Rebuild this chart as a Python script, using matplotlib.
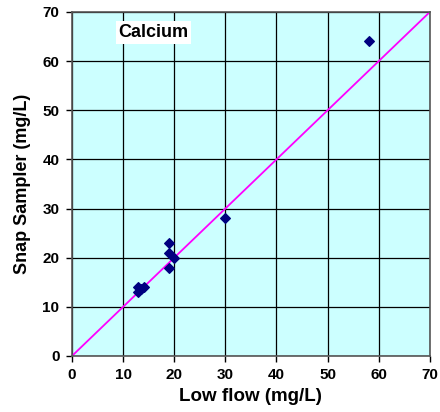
import numpy as np
import matplotlib.pyplot as plt

plt.rcParams['font.family'] = ['Liberation Sans', 'DejaVu Sans']

low_flow = [58, 30, 19, 19, 20, 19, 13, 14, 13, 13.5]
snap = [64, 28, 23, 21, 20, 18, 14, 14, 13, 13.6]
ticks = list(range(0, 71, 10))

fig = plt.figure(figsize=(4.4, 4.12), dpi=100)
ax = fig.add_axes([0.1636, 0.136, 0.8134, 0.835])
ax.set_facecolor('#CCFFFF')

ax.plot([0, 70], [0, 70], color='#FF00FF', lw=1.3, zorder=2)
ax.scatter(low_flow, snap, marker='D', s=24, color='#000080', zorder=3)

ax.set_xlim(0, 70)
ax.set_ylim(0, 70)
ax.set_xticks(ticks)
ax.set_yticks(ticks)
ax.grid(True, color='black', lw=0.9, zorder=1)
ax.set_axisbelow(True)
for s in ax.spines.values():
    s.set_color('#555555')
    s.set_linewidth(1.2)
ax.tick_params(labelsize=11, length=4, width=1, pad=5)
for lab in ax.get_xticklabels() + ax.get_yticklabels():
    lab.set_fontweight('bold')

ax.set_xlabel('Low flow (mg/L)', fontsize=13.5, fontweight='bold', labelpad=4)
ax.set_ylabel('Snap Sampler (mg/L)', fontsize=13, fontweight='bold', labelpad=8)

ax.text(15.9, 65.8, 'Calcium', fontsize=13, fontweight='bold', ha='center', va='center',
        bbox=dict(facecolor='white', edgecolor='none', pad=2), zorder=4)

fig.savefig('out.png', dpi=100)
